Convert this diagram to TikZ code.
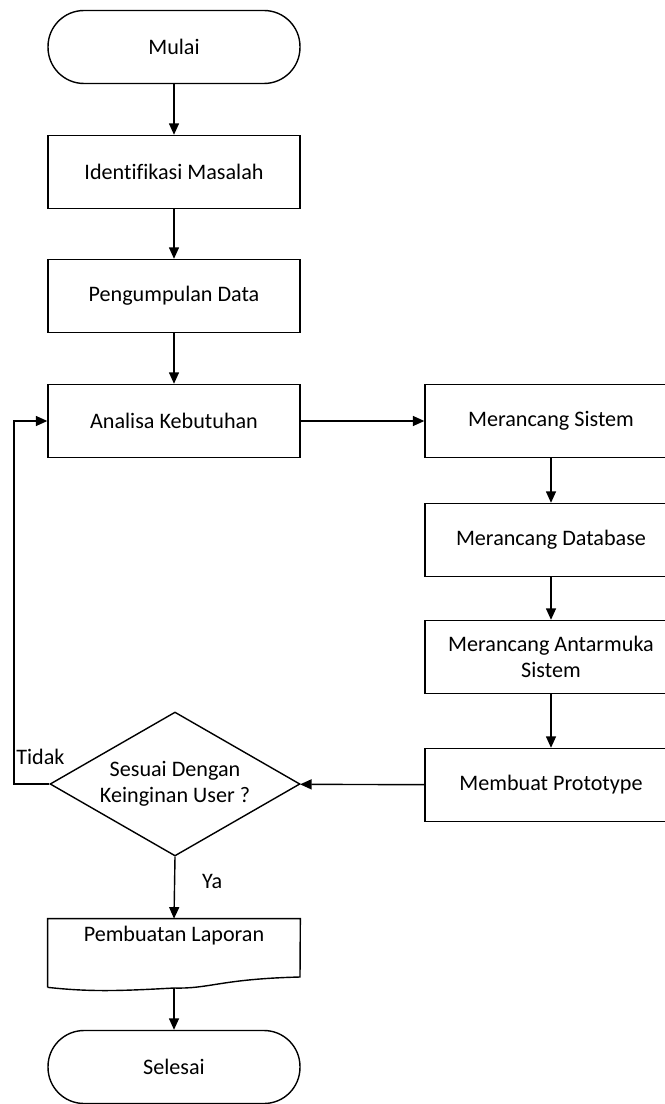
\documentclass[tikz,border=0pt]{standalone}
\usepackage{fontspec}
\setmainfont[Ligatures={NoCommon}]{Carlito}
\usetikzlibrary{arrows.meta,shapes.geometric}

\tikzset{
  proses/.style={draw, line width=0.8pt, minimum width=5.04cm, minimum height=1.46cm, align=center},
  terminal/.style={proses, rounded corners=0.72cm},
  keputusan/.style={draw, diamond, line width=0.8pt, minimum width=5cm, minimum height=2.88cm, aspect=1.74, inner sep=0pt, align=center},
  panah/.style={line width=0.8pt, -{Triangle[length=0.23cm, width=0.2cm]}}
}

\begin{document}
\begin{tikzpicture}[x=0.02cm, y=-0.02cm, font=\fontsize{12.6}{15}\selectfont]
        \useasboundingbox (0,0) rectangle (665,1104);
        % kolom kiri
        \node[terminal] (mulai) at (174,47) {Mulai};
        \node[proses] (identifikasi) at (174,172) {Identifikasi Masalah};
        \node[proses] (pengumpulan) at (174,296) {Pengumpulan Data};
        \node[proses] (analisa) at (174,421) {Analisa Kebutuhan};
        % kolom kanan
        \node[proses] (sistem) at (551,421) {Merancang Sistem};
        \node[proses] (database) at (551,540) {Merancang Database};
        \node[proses] (antarmuka) at (551,657) {Merancang Antarmuka\\Sistem};
        \node[proses] (prototype) at (551,785) {Membuat Prototype};
        \node[keputusan] (sesuai) at (175,784) {Sesuai Dengan\\Keinginan User ?};
        % dokumen laporan
        \node[minimum width=5.04cm, minimum height=1.36cm, inner sep=0pt] (laporan) at (174,953) {};
        \node (teksLaporan) at (174,936) {Pembuatan Laporan};
        \draw[line width=0.8pt] (laporan.south west) -- (laporan.north west) -- (laporan.north east)
              -- (300,977) .. controls (220,979) and (210,989) .. (174,988) .. controls (120,991) and (90,992) .. (laporan.south west);
        \coordinate (laporanBawah) at (174,988);
        \node[terminal] (selesai) at (174,1067) {Selesai};

        \draw[panah] (mulai) -- (identifikasi);
        \draw[panah] (identifikasi) -- (pengumpulan);
        \draw[panah] (pengumpulan) -- (analisa);
        \draw[panah] (analisa) -- (sistem);
        \draw[panah] (sistem) -- (database);
        \draw[panah] (database) -- (antarmuka);
        \draw[panah] (antarmuka) -- (prototype);
        \draw[panah] (prototype) -- (sesuai);
        \draw[panah] (sesuai.west) -- (14,784) -- (14,421) -- (analisa.west);
        \draw[panah] (sesuai.south) -- node[pos=0.4, right=12pt] {Ya} (laporan.north);
        \draw[panah] (laporanBawah) -- (selesai);
        \node[anchor=west, inner sep=0pt] (tidak) at (16,757) {Tidak};
      \end{tikzpicture}
\end{document}
